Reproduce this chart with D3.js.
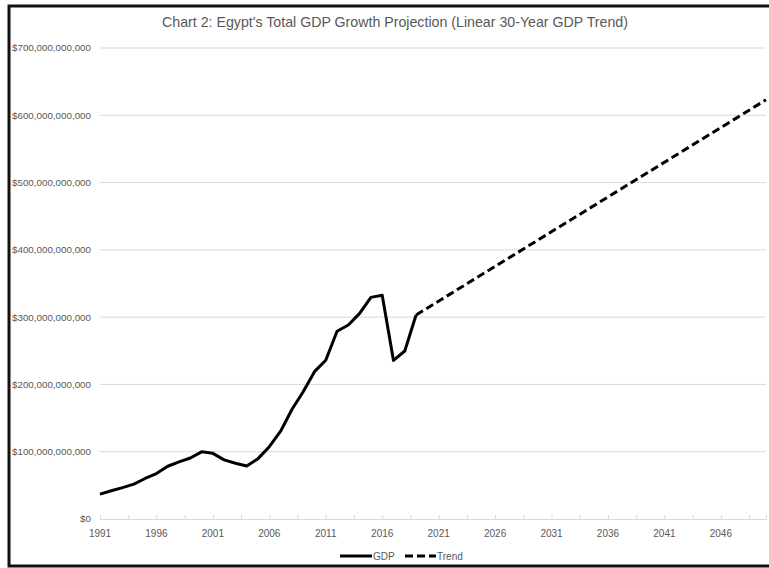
<!DOCTYPE html>
<html>
<head>
<meta charset="utf-8">
<script src="https://cdn.jsdelivr.net/npm/d3@7"></script>
<style>
  body { margin: 0; background: #fff; }
  text { font-family: "Liberation Sans Narrow", "Liberation Sans", sans-serif; fill: #595959; }
</style>
</head>
<body>
<div id="chart"></div>
<script>
// GDP history (current US$)
var years = [1991, 1992, 1993, 1994, 1995, 1996, 1997, 1998, 1999, 2000,
             2001, 2002, 2003, 2004, 2005, 2006, 2007, 2008, 2009, 2010,
             2011, 2012, 2013, 2014, 2015, 2016, 2017, 2018, 2019];
var gdp = [37.0e9, 41.9e9, 46.6e9, 51.9e9, 60.2e9, 67.6e9, 78.4e9, 84.8e9, 90.7e9, 99.8e9,
           97.6e9, 87.9e9, 82.9e9, 78.8e9, 89.7e9, 107.5e9, 130.5e9, 162.8e9, 189.1e9, 219.0e9,
           236.0e9, 279.1e9, 288.4e9, 305.6e9, 329.4e9, 332.4e9, 235.7e9, 249.7e9, 303.2e9];

// linear trend, start and end points
var trendYears = [2019, 2050];
var trendValues = [303.2e9, 623e9];

var yTicks = [0, 100e9, 200e9, 300e9, 400e9, 500e9, 600e9, 700e9];
var xLabels = [1991, 1996, 2001, 2006, 2011, 2016, 2021, 2026, 2031, 2036, 2041, 2046];
var xTickMarks = d3.range(1991, 2050.1, 2.5);

var svgWidth = 769;
var svgHeight = 568;

var svg = d3.select("#chart")
    .append("svg")
    .attr("width", svgWidth)
    .attr("height", svgHeight);

// frame
svg.append("rect")
    .attr("x", 9)
    .attr("y", 6)
    .attr("width", 800)
    .attr("height", 560)
    .attr("fill", "none")
    .attr("stroke", "#111")
    .attr("stroke-width", 3);

var xScale = d3.scaleLinear()
    .domain([1991, 2050])
    .range([100, 766]);

var yScale = d3.scaleLinear()
    .domain([0, 700e9])
    .range([519, 48]);

// gridlines
svg.append("g")
    .selectAll("line")
    .data(yTicks.slice(1))
    .enter()
    .append("line")
    .attr("x1", xScale(1991))
    .attr("x2", xScale(2050))
    .attr("y1", d => yScale(d))
    .attr("y2", d => yScale(d))
    .attr("stroke", "#d9d9d9")
    .attr("stroke-width", 1);

var fmt = d3.format(",");

svg.append("g")
    .selectAll("text")
    .data(yTicks)
    .enter()
    .append("text")
    .attr("x", 91)
    .attr("y", d => yScale(d))
    .attr("dy", "0.35em")
    .attr("text-anchor", "end")
    .style("font-size", "9.8px")
    .text(d => "$" + fmt(d));

// x axis
var bottomAxis = d3.axisBottom(xScale)
    .tickValues(xTickMarks)
    .tickSize(-4)
    .tickFormat("");

var xAxisG = svg.append("g")
    .attr("transform", `translate(0, ${yScale(0)})`)
    .call(bottomAxis);

xAxisG.select(".domain").attr("stroke", "#d9d9d9");
xAxisG.selectAll(".tick line").attr("stroke", "#d9d9d9");

svg.append("g")
    .selectAll("text")
    .data(xLabels)
    .enter()
    .append("text")
    .attr("x", d => xScale(d))
    .attr("y", 533)
    .attr("dy", "0.35em")
    .attr("text-anchor", "middle")
    .style("font-size", "10px")
    .text(d => d);

// lines
var line = d3.line()
    .x(d => xScale(d[0]))
    .y(d => yScale(d[1]));

svg.append("path")
    .datum(d3.zip(years, gdp))
    .attr("d", line)
    .attr("fill", "none")
    .attr("stroke", "#000")
    .attr("stroke-width", 3)
    .attr("stroke-linejoin", "round");

svg.append("path")
    .datum(d3.zip(trendYears, trendValues))
    .attr("d", line)
    .attr("fill", "none")
    .attr("stroke", "#000")
    .attr("stroke-width", 3)
    .attr("stroke-dasharray", "8,4");

// title
svg.append("text")
    .attr("x", 395)
    .attr("y", 22)
    .attr("dy", "0.35em")
    .attr("text-anchor", "middle")
    .style("font-size", "14.2px")
    .text("Chart 2: Egypt's Total GDP Growth Projection (Linear 30-Year GDP Trend)");

// legend
var legend = svg.append("g");
legend.append("line")
    .attr("x1", 340).attr("x2", 372)
    .attr("y1", 556).attr("y2", 556)
    .attr("stroke", "#000").attr("stroke-width", 3);
legend.append("text")
    .attr("x", 373).attr("y", 556).attr("dy", "0.35em")
    .style("font-size", "10px")
    .text("GDP");
legend.append("line")
    .attr("x1", 405).attr("x2", 436)
    .attr("y1", 556).attr("y2", 556)
    .attr("stroke", "#000").attr("stroke-width", 3)
    .attr("stroke-dasharray", "8,4");
legend.append("text")
    .attr("x", 437).attr("y", 556).attr("dy", "0.35em")
    .style("font-size", "10px")
    .text("Trend");
</script>
</body>
</html>
